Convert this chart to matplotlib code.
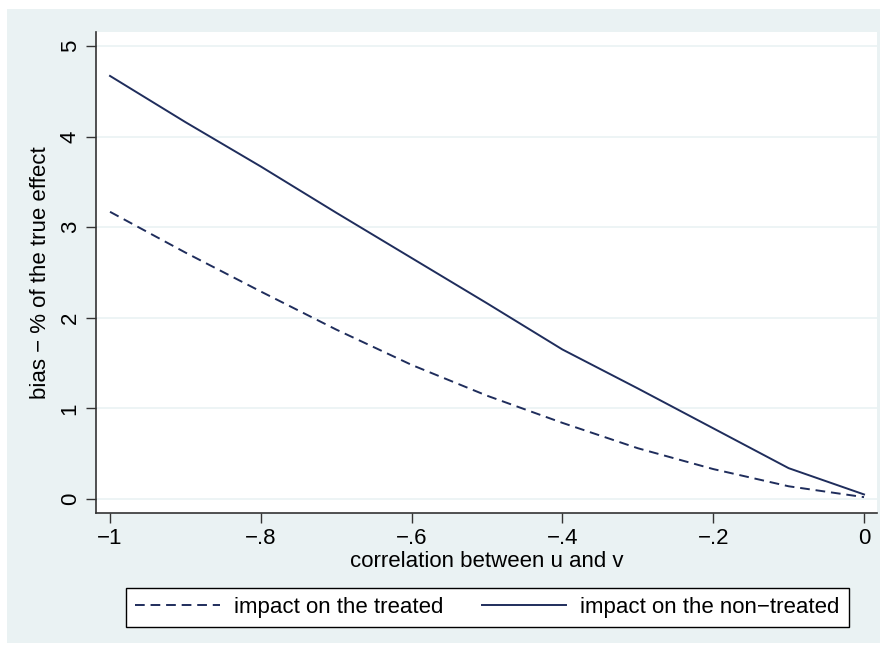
import matplotlib
matplotlib.use("Agg")
import matplotlib.pyplot as plt
from matplotlib.patches import Rectangle

plt.rcParams["font.family"] = ["Liberation Sans", "DejaVu Sans"]

rho = [-1.0, -0.9, -0.8, -0.7, -0.6, -0.5, -0.4, -0.3, -0.2, -0.1, 0.0]
bias_treated = [3.17, 2.72, 2.29, 1.87, 1.48, 1.14, 0.84, 0.56, 0.33, 0.14, 0.02]
bias_nontreated = [4.67, 4.16, 3.67, 3.16, 2.66, 2.16, 1.65, 1.22, 0.78, 0.34, 0.05]

x_ticks = [-1.0, -0.8, -0.6, -0.4, -0.2, 0.0]
x_labels = ["\u22121", "\u2212.8", "\u2212.6", "\u2212.4", "\u2212.2", "0"]
y_ticks = [0, 1, 2, 3, 4, 5]
y_labels = ["0", "1", "2", "3", "4", "5"]

bg = "#eaf2f3"
navy = "#1f2d5c"

fig = plt.figure(figsize=(8.89, 6.52), dpi=100, facecolor="white")
fig.patches.append(Rectangle((7 / 889, 9 / 652), 873 / 889, 634 / 652,
                             transform=fig.transFigure, facecolor=bg,
                             edgecolor="none", zorder=-5))

ax = fig.add_axes([96 / 889, 1 - 513 / 652, 781 / 889, 481 / 652])
ax.set_zorder(2)
ax.set_facecolor("white")

ax.plot(rho, bias_treated, color=navy, lw=1.4, linestyle=(0, (5, 3)),
        label="impact on the treated")
ax.plot(rho, bias_nontreated, color=navy, lw=1.4, label="impact on the non\u2212treated")

ax.set_xlim(-1.0186, 0.0172)
ax.set_ylim(-0.155, 5.155)
ax.set_xticks(x_ticks)
ax.set_xticklabels(x_labels)
ax.set_yticks(y_ticks)
ax.set_yticklabels(y_labels, rotation=90, va="center")
ax.tick_params(axis="both", length=7, width=1, color="#333333",
               labelsize=16, pad=4)

ax.grid(axis="y", color=bg, lw=1.2)
ax.set_axisbelow(True)
for side in ["top", "right"]:
    ax.spines[side].set_visible(False)
for side in ["left", "bottom"]:
    ax.spines[side].set_color("#333333")
    ax.spines[side].set_linewidth(1.2)

ax.set_xlabel("correlation between u and v", fontsize=16, labelpad=1)
ax.set_ylabel("bias \u2212 % of the true effect", fontsize=16, labelpad=6)

leg = fig.legend(loc="center", ncol=2,
                 bbox_to_anchor=(487.5 / 889, 1 - 607.5 / 652),
                 fontsize=16, frameon=True, fancybox=False, handlelength=3.8,
                 handletextpad=0.63, columnspacing=1.75, borderpad=0.4,
                 borderaxespad=0, framealpha=1)
leg.set_zorder(3)
leg.get_frame().set_facecolor("white")
leg.get_frame().set_edgecolor("black")
leg.get_frame().set_linewidth(1)

fig.savefig("out.png", dpi=100, facecolor="white")
